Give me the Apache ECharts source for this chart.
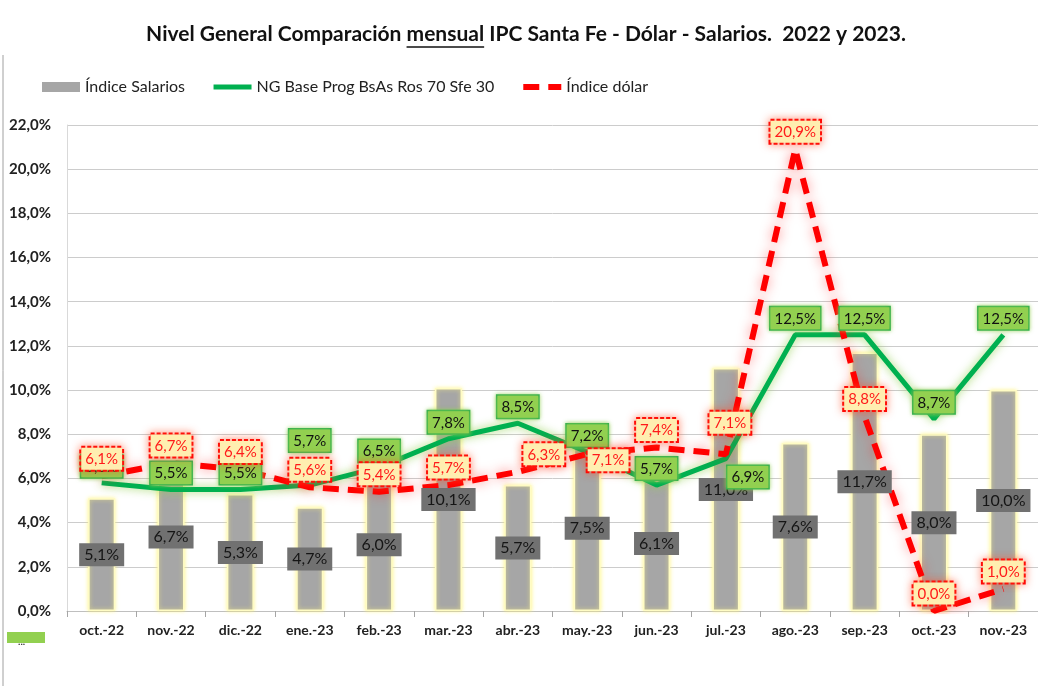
<!DOCTYPE html>
<html>
<head>
<meta charset="utf-8">
<script src="https://cdn.jsdelivr.net/npm/echarts@6/dist/echarts.min.js"></script>
<style>
  html, body { margin: 0; padding: 0; background: #fff; }
  #chart { width: 1038px; height: 686px; }
</style>
</head>
<body>
<div id="chart"></div>
<script>
// datos
const meses = ['oct.-22', 'nov.-22', 'dic.-22', 'ene.-23', 'feb.-23', 'mar.-23', 'abr.-23',
  'may.-23', 'jun.-23', 'jul.-23', 'ago.-23', 'sep.-23', 'oct.-23', 'nov.-23'];
const salarios = [5.1, 6.7, 5.3, 4.7, 6.0, 10.1, 5.7, 7.5, 6.1, 11.0, 7.6, 11.7, 8.0, 10.0];
const ngBase = [5.8, 5.5, 5.5, 5.7, 6.5, 7.8, 8.5, 7.2, 5.7, 6.9, 12.5, 12.5, 8.7, 12.5];
const dolar = [6.1, 6.7, 6.4, 5.6, 5.4, 5.7, 6.3, 7.1, 7.4, 7.1, 20.9, 8.8, 0.0, 1.0];
const yTicks = { min: 0, max: 22, interval: 2 };

const FONT = 'Lato, "Open Sans", sans-serif';
const pct = v => v.toFixed(1).replace('.', ',') + '%';

const N_SAL = 'Índice Salarios';
const N_NG = 'NG Base Prog BsAs Ros 70 Sfe 30';
const N_DOL = 'Índice dólar';

// ajustes de posicion de algunas etiquetas (como en el original)
const ngLabelTweak = { 3: { offset: [0, -28] }, 9: { position: 'bottom', offset: [22, 2] } };
const dolarLabelTweak = { 6: { offset: [26, 0] }, 7: { position: 'right', offset: [-6, 6] }, 9: { offset: [4, -14] } };

const titulo = 'Nivel General Comparación mensual IPC Santa Fe - Dólar - Salarios.  2022 y 2023.';
const tituloPre = 'Nivel General Comparación ';
const subrayado = 'mensual';
const TITLE_SIZE = 21;

const ctx = document.createElement('canvas').getContext('2d');
ctx.font = 'bold ' + TITLE_SIZE + 'px ' + FONT;
const wTitle = ctx.measureText(titulo).width;
const wPre = ctx.measureText(tituloPre).width;
const wSub = ctx.measureText(subrayado).width;
const titleLeft = 526 - wTitle / 2;

const hidden = 'rgba(0,0,0,0)';

const ngLabel = {
  show: true,
  position: 'top',
  distance: 5,
  formatter: p => pct(p.value),
  fontSize: 15,
  color: '#111',
  fontFamily: FONT,
  backgroundColor: '#92d050',
  borderColor: '#2fae4e',
  borderWidth: 1.5,
  padding: [4, 4, 3, 4],
  shadowColor: 'rgba(146, 208, 80, 0.8)',
  shadowBlur: 4
};

const dolLabel = {
  show: true,
  position: 'top',
  distance: 6,
  formatter: p => pct(p.value),
  fontSize: 15,
  color: '#ff1a1a',
  fontFamily: FONT,
  backgroundColor: '#ffeeb0',
  borderColor: '#ff0000',
  borderWidth: 2,
  borderType: [4, 2],
  padding: [4, 4, 3, 4],
  shadowColor: 'rgba(255, 80, 40, 0.6)',
  shadowBlur: 8
};

const chart = echarts.init(document.getElementById('chart'));

const option = {
  backgroundColor: '#ffffff',
  animation: false,
  textStyle: { fontFamily: FONT },
  title: {
    text: titulo,
    left: titleLeft,
    top: 24,
    padding: 0,
    textStyle: { fontSize: TITLE_SIZE, fontWeight: 'bold', color: '#111', fontFamily: FONT }
  },
  legend: {
    left: 37,
    top: 74,
    itemWidth: 38,
    itemHeight: 10,
    itemGap: 26,
    textStyle: { fontSize: 16, color: '#222', fontFamily: FONT },
    data: [
      { name: N_SAL, icon: 'rect', itemStyle: { borderWidth: 0, shadowBlur: 0 } },
      { name: N_NG, itemStyle: { opacity: 0 }, lineStyle: { width: 5, shadowBlur: 0 } },
      { name: N_DOL, itemStyle: { opacity: 0 }, lineStyle: { width: 6, shadowBlur: 0 } }
    ]
  },
  grid: { left: 67, right: -9, top: 125, bottom: 75, containLabel: false },
  xAxis: {
    type: 'category',
    data: meses,
    axisLine: { lineStyle: { color: '#bfbfbf', width: 1 } },
    axisTick: { show: true, length: 6, lineStyle: { color: '#a6a6a6' } },
    axisLabel: { margin: 12, fontSize: 14, fontWeight: 'bold', color: '#222', fontFamily: FONT }
  },
  yAxis: {
    type: 'value',
    min: yTicks.min,
    max: yTicks.max,
    interval: yTicks.interval,
    axisLine: { show: true, lineStyle: { color: '#d9d9d9' } },
    axisTick: { show: false },
    splitLine: { lineStyle: { color: '#cccccc', width: 1 } },
    axisLabel: { margin: 16, fontSize: 15, fontWeight: 'bold', color: '#222', fontFamily: FONT, formatter: pct }
  },
  series: [
    {
      name: N_SAL,
      type: 'bar',
      barWidth: 27,
      barGap: '-100%',
      z: 2,
      data: salarios,
      itemStyle: {
        color: '#a6a6a6',
        borderColor: '#fffcc4',
        borderWidth: 1.5,
        shadowColor: 'rgba(255, 245, 120, 0.8)',
        shadowBlur: 4
      }
    },
    {
      name: N_NG,
      type: 'line',
      z: 3,
      symbol: 'none',
      data: ngBase,
      lineStyle: {
        color: '#00b050',
        width: 5,
        shadowColor: 'rgba(146, 208, 80, 0.85)',
        shadowBlur: 10
      },
      itemStyle: { color: '#00b050' }
    },
    {
      name: N_DOL,
      type: 'line',
      z: 4,
      symbol: 'none',
      data: dolar,
      lineStyle: {
        color: '#ff0000',
        width: 6,
        type: [16, 9],
        shadowColor: 'rgba(255, 40, 40, 0.55)',
        shadowBlur: 12
      },
      itemStyle: { color: '#ff0000' }
    },
    // capas de etiquetas, por encima de las lineas
    {
      name: 'sal-etiquetas',
      type: 'bar',
      barWidth: 27,
      barGap: '-100%',
      z: 5,
      silent: true,
      data: salarios,
      itemStyle: { color: hidden },
      label: {
        show: true,
        position: 'inside',
        formatter: p => pct(p.value),
        fontSize: 16,
        color: '#151515',
        fontFamily: FONT,
        backgroundColor: '#717171',
        padding: [4, 5, 3, 5]
      }
    },
    {
      name: 'ng-etiquetas',
      type: 'line',
      z: 6,
      silent: true,
      symbol: 'circle',
      symbolSize: 1,
      showSymbol: true,
      data: ngBase.map((v, i) => ({ value: v, label: ngLabelTweak[i] || {} })),
      lineStyle: { opacity: 0 },
      itemStyle: { color: hidden },
      label: ngLabel
    },
    {
      name: 'dol-etiquetas',
      type: 'line',
      z: 7,
      silent: true,
      symbol: 'circle',
      symbolSize: 1,
      showSymbol: true,
      data: dolar.map((v, i) => ({ value: v, label: dolarLabelTweak[i] || {} })),
      lineStyle: { opacity: 0 },
      itemStyle: { color: hidden },
      label: dolLabel
    }
  ],
  graphic: [
    { type: 'line', shape: { x1: 3, y1: 55, x2: 3, y2: 686 }, style: { stroke: '#a0a0a0', lineWidth: 1 } },
    { type: 'line', shape: { x1: titleLeft + wPre, y1: 47, x2: titleLeft + wPre + wSub, y2: 47 }, style: { stroke: '#111', lineWidth: 1.5 } },
    { type: 'rect', shape: { x: 7, y: 632, width: 38, height: 11 }, style: { fill: '#92d050' } },
    { type: 'text', left: 18, top: 637, style: { text: '...', fill: '#333', font: 'bold 10px ' + FONT } }
  ]
};

chart.setOption(option);
</script>
</body>
</html>
